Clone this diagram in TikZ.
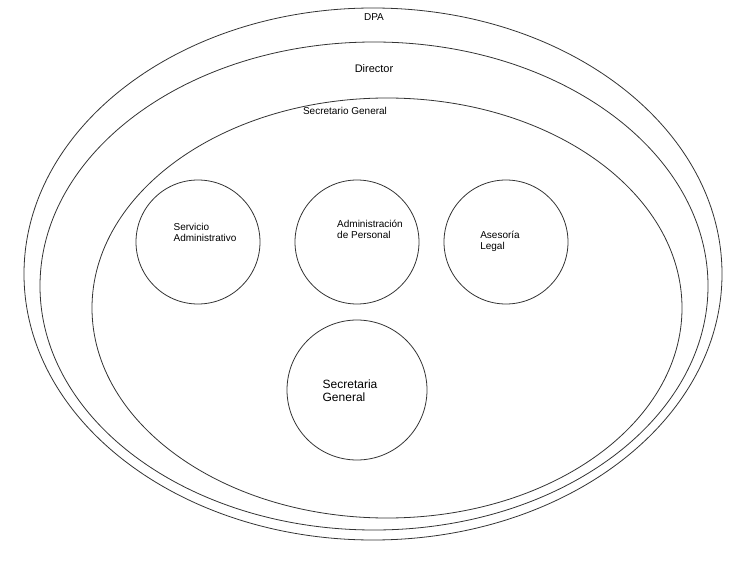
\documentclass[tikz,border=0pt]{standalone}
\usepackage{fontspec}
\setmainfont{Liberation Sans}
\usetikzlibrary{shapes.geometric}
\begin{document}
\begin{tikzpicture}[x=1pt,y=-1pt,
  ring/.style={draw=black!80,line width=0.8pt},
  lbl/.style={font=\fontsize{10}{11}\selectfont,align=left,inner sep=0pt}]
\useasboundingbox (0,0) rectangle (750,567);
\draw[ring] (373,274) ellipse [x radius=349,y radius=266];
\draw[ring] (374,286) ellipse [x radius=334,y radius=244];
\draw[ring] (387,308) ellipse [x radius=295,y radius=210];
\node[ring,circle,minimum size=124pt] (sa) at (198,242) {};
\node[ring,circle,minimum size=124pt] (ap) at (357,242) {};
\node[ring,circle,minimum size=124pt] (al) at (506,242) {};
\node[ring,circle,minimum size=140pt] (sg) at (357,390) {};
\node[lbl] (t1) at (374,17) {DPA};
\node[lbl,font=\fontsize{11}{12}\selectfont] (t2) at (374,69) {Director};
\node[lbl] (t3) at (345,111) {Secretario General};
\node[lbl] (t4) at (205,232) {Servicio\\Administrativo};
\node[lbl] (t5) at (370,229) {Administración\\de Personal};
\node[lbl] (t6) at (500,241) {Asesoría\\Legal};
\node[lbl,font=\fontsize{12}{13}\selectfont] (t7) at (350,391) {Secretaria\\General};
\end{tikzpicture}
\end{document}
